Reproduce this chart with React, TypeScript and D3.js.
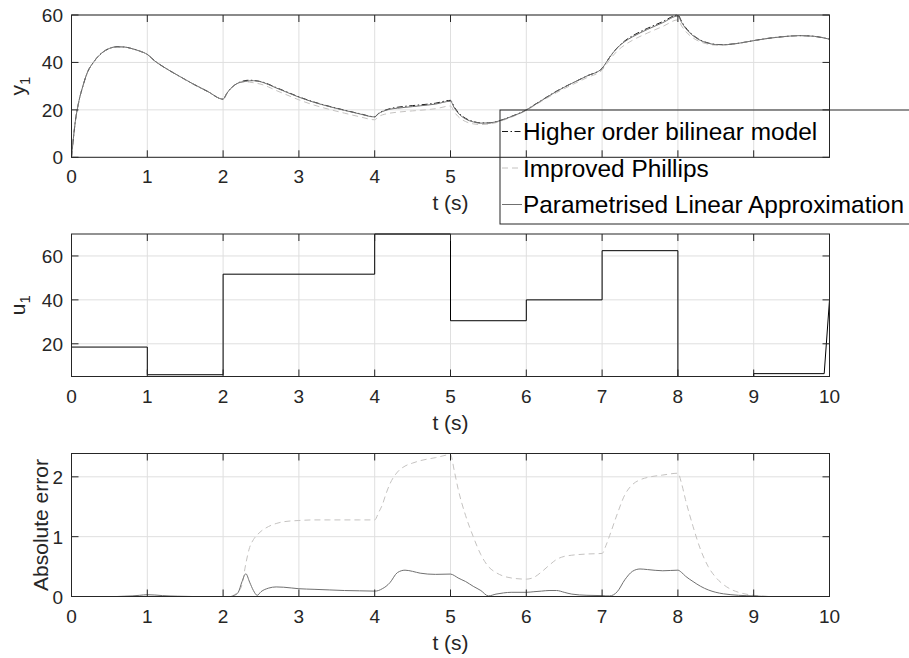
import React from 'react';
import * as d3 from 'd3';

// ---------- data ----------
const tGrid = [
  0, 0.05, 0.1, 0.15, 0.2, 0.3, 0.4, 0.5, 0.6, 0.7, 0.8, 0.9,
  1.0, 1.1, 1.2, 1.4, 1.6, 1.8,
  2.0, 2.05, 2.1, 2.15, 2.2, 2.25, 2.3, 2.35, 2.4, 2.45, 2.5, 2.6, 2.7, 2.8,
  3.0, 3.2, 3.4, 3.6, 3.8,
  4.0, 4.05, 4.1, 4.15, 4.2, 4.3, 4.4, 4.5, 4.6, 4.8,
  5.0, 5.05, 5.1, 5.2, 5.3, 5.4, 5.5, 5.6, 5.7, 5.8,
  6.0, 6.1, 6.2, 6.3, 6.4, 6.5, 6.6, 6.8,
  7.0, 7.05, 7.1, 7.2, 7.3, 7.4, 7.5, 7.6, 7.8,
  8.0, 8.05, 8.1, 8.2, 8.3, 8.4, 8.5, 8.6, 8.7, 8.8,
  9.0, 9.2, 9.4, 9.6, 9.8, 10.0,
];

const yHOB = [
  0, 15, 24, 30, 35, 40.5, 44, 45.9, 46.6, 46.5, 45.8, 44.8,
  43.4, 40.6, 38.4, 34.6, 31.0, 27.7,
  24.5, 27.0, 29.0, 30.4, 31.4, 32.0, 32.4, 32.5, 32.4, 32.2, 31.9, 30.8, 29.4, 28.1,
  25.5, 23.3, 21.5, 19.9, 18.4,
  17.1, 18.5, 19.4, 20.0, 20.5, 21.1, 21.5, 21.8, 22.1, 22.8,
  24.0, 21.2, 19.0, 16.4, 15.1, 14.5, 14.5, 15.0, 16.0, 17.2,
  20.0, 22.0, 24.0, 26.0, 27.9, 29.6, 31.2, 34.3,
  37.5, 39.8, 42.2, 46.2, 49.1, 51.2, 52.9, 54.4, 57.2,
  60.0, 57.2, 54.8, 51.5, 49.4, 48.2, 47.6, 47.5, 47.7, 48.1,
  49.2, 50.2, 50.9, 51.3, 51.0, 49.8,
];

const yPhillips = [
  0, 15, 24, 30, 35, 40.5, 44, 45.9, 46.6, 46.5, 45.8, 44.8,
  43.4, 40.6, 38.4, 34.6, 31.0, 27.7,
  24.5, 27.0, 29.0, 30.37, 31.32, 31.8, 31.85, 31.68, 31.45, 31.17, 30.81, 29.63, 28.18, 26.85,
  24.23, 22.02, 20.22, 18.62, 17.12,
  15.82, 17.12, 17.88, 18.28, 18.62, 19.02, 19.32, 19.57, 19.83, 20.48,
  21.63, 19.1, 17.2, 15.05, 14.1, 13.8, 14.0, 14.6, 15.66, 16.89,
  19.71, 21.68, 23.59, 25.48, 27.28, 28.93, 30.51, 33.59,
  36.78, 38.95, 41.18, 44.82, 47.4, 49.33, 50.95, 52.41, 55.17,
  57.94, 55.32, 53.18, 50.33, 48.62, 47.7, 47.28, 47.3, 47.58, 48.03,
  49.18, 50.2, 50.9, 51.3, 51.0, 49.8,
];

const yPLA = [
  0, 15, 24, 30, 35, 40.5, 44, 45.9, 46.6, 46.5, 45.79, 44.78,
  43.37, 40.58, 38.39, 34.6, 31.0, 27.7,
  24.5, 27.0, 29.0, 30.38, 31.33, 31.75, 32.02, 32.26, 32.3, 32.18, 31.82, 30.66, 29.24, 27.95,
  25.37, 23.18, 21.39, 19.8, 18.31,
  17.01, 18.4, 19.27, 19.83, 20.27, 20.7, 21.06, 21.38, 21.71, 22.43,
  23.63, 20.85, 18.69, 16.15, 14.93, 14.4, 14.49, 14.96, 15.94, 17.13,
  19.93, 21.92, 23.91, 25.9, 27.8, 29.53, 31.16, 34.28,
  37.49, 39.79, 42.19, 46.12, 48.82, 50.78, 52.44, 53.95, 56.77,
  59.56, 56.8, 54.46, 51.25, 49.23, 48.09, 47.53, 47.46, 47.67, 48.08,
  49.19, 50.2, 50.9, 51.3, 51.0, 49.8,
];

const errPhillips = [
  0, 0, 0, 0, 0, 0, 0, 0, 0, 0, 0, 0,
  0, 0, 0, 0, 0, 0,
  0, 0, 0, 0.03, 0.08, 0.2, 0.55, 0.82, 0.95, 1.03, 1.09, 1.17, 1.22, 1.25,
  1.27, 1.28, 1.28, 1.28, 1.28,
  1.28, 1.4, 1.53, 1.72, 1.88, 2.08, 2.18, 2.23, 2.27, 2.32,
  2.37, 2.1, 1.8, 1.35, 1.0, 0.7, 0.5, 0.4, 0.34, 0.31,
  0.29, 0.32, 0.41, 0.52, 0.62, 0.67, 0.69, 0.71,
  0.72, 0.85, 1.02, 1.38, 1.7, 1.87, 1.95, 1.99, 2.03,
  2.06, 1.88, 1.62, 1.17, 0.78, 0.5, 0.32, 0.2, 0.12, 0.07,
  0.02, 0, 0, 0, 0, 0,
];

const errPLA = [
  0, 0, 0, 0, 0, 0, 0, 0, 0, 0.005, 0.01, 0.02,
  0.03, 0.025, 0.015, 0.005, 0, 0,
  0, 0, 0, 0.02, 0.07, 0.25, 0.38, 0.24, 0.1, 0.02, 0.08, 0.14, 0.16, 0.155,
  0.13, 0.12, 0.11, 0.1, 0.095,
  0.09, 0.1, 0.13, 0.17, 0.23, 0.4, 0.44, 0.42, 0.39, 0.37,
  0.375, 0.35, 0.31, 0.25, 0.17, 0.1, 0.01, 0.04, 0.06, 0.07,
  0.07, 0.08, 0.09, 0.1, 0.1, 0.07, 0.04, 0.02,
  0.015, 0.01, 0.01, 0.08, 0.28, 0.42, 0.46, 0.45, 0.43,
  0.44, 0.4, 0.34, 0.25, 0.17, 0.11, 0.07, 0.045, 0.03, 0.02,
  0.01, 0, 0, 0, 0, 0,
];

const uTimes = [0, 1, 1, 2, 2, 4, 4, 5, 5, 6, 6, 7, 7, 8, 8, 9, 9, 9.93, 10];
const uValues = [18.5, 18.5, 5.9, 5.9, 51.7, 51.7, 70, 70, 30.5, 30.5, 40, 40, 62.4, 62.4, 5.1, 5.1, 6.4, 6.4, 40];

const xTicks = [0, 1, 2, 3, 4, 5, 6, 7, 8, 9, 10];
const y1Ticks = [0, 20, 40, 60];
const u1Ticks = [20, 40, 60];
const errTicks = [0, 1, 2];
const legendLabels = ['Higher order bilinear model', 'Improved Phillips', 'Parametrised Linear Approximation'];

// ---------- styles ----------
const FONT = '"Liberation Sans", Arial, Helvetica, sans-serif';
const AXC = '#262626';
const GRIDC = '#dfdfdf';
const C_HOB = '#1a1a1a';
const C_PHIL = '#c4c2c0';
const C_PLA = '#707070';
const DASH_HOB = '6,2.5,1.5,2.5';
const DASH_PHIL = '6,4';

const X0 = 71.5;
const X1 = 829.5;
const x = d3.scaleLinear().domain([0, 10]).range([X0, X1]);

const LEG_X = 500;
const LEG_TOP = 110;
const LEG_BOTTOM = 224;

type Series = { t: number[]; v: number[]; color: string; dash?: string; width?: number; curve?: any };
type PanelDef = {
  id: string; top: number; bottom: number; domain: [number, number]; yTicks: number[];
  series: Series[]; yLabel: React.ReactNode; yLabelX: number; xLabelY: number;
};

const panels: PanelDef[] = [
  {
    id: 'cp1', top: 15, bottom: 157.3, domain: [0, 60], yTicks: y1Ticks,
    series: [
      { t: tGrid, v: yHOB, color: C_HOB, dash: DASH_HOB },
      { t: tGrid, v: yPhillips, color: C_PHIL, dash: DASH_PHIL },
      { t: tGrid, v: yPLA, color: C_PLA },
    ],
    yLabel: <>y<tspan fontSize={15} dy={5}>1</tspan></>, yLabelX: 25, xLabelY: 210,
  },
  {
    id: 'cp2', top: 234, bottom: 376.5, domain: [5.1, 70], yTicks: u1Ticks,
    series: [{ t: uTimes, v: uValues, color: '#000', curve: d3.curveLinear }],
    yLabel: <>u<tspan fontSize={15} dy={5}>1</tspan></>, yLabelX: 25, xLabelY: 429.5,
  },
  {
    id: 'cp3', top: 453.5, bottom: 596.5, domain: [0, 2.39], yTicks: errTicks,
    series: [
      { t: tGrid, v: errPhillips, color: C_PHIL, dash: DASH_PHIL },
      { t: tGrid, v: errPLA, color: C_PLA },
    ],
    yLabel: 'Absolute error', yLabelX: 48, xLabelY: 649.5,
  },
];

function PanelLabels({ p }: { p: PanelDef }) {
  const y = d3.scaleLinear().domain(p.domain).range([p.bottom, p.top]);
  const underLegend = (t: number) =>
    p.bottom + 26 > LEG_TOP && p.bottom < LEG_BOTTOM && x(t) - 6 > LEG_X;
  return (
    <g fontFamily={FONT} fill={AXC}>
      {xTicks.filter((t) => !underLegend(t)).map((t) => (
        <text key={'lx' + t} x={x(t)} y={p.bottom + 26} textAnchor="middle" fontSize={19}>{t}</text>
      ))}
      {p.yTicks.map((v) => (
        <text key={'ly' + v} x={63} y={y(v) + 7} textAnchor="end" fontSize={19}>{v}</text>
      ))}
      <text x={(X0 + X1) / 2} y={p.xLabelY} textAnchor="middle" fontSize={21}>t (s)</text>
      <text transform={`translate(${p.yLabelX},${(p.top + p.bottom) / 2}) rotate(-90)`} textAnchor="middle"
        fontSize={21}>{p.yLabel}</text>
    </g>
  );
}

function PanelPlot({ p }: { p: PanelDef }) {
  const y = d3.scaleLinear().domain(p.domain).range([p.bottom, p.top]);
  const tickLen = 7;
  return (
    <g>
      <defs>
        <clipPath id={p.id}>
          <rect x={X0} y={p.top - 1} width={X1 - X0} height={p.bottom - p.top + 2} />
        </clipPath>
      </defs>
      {xTicks.map((t) => (
        <line key={'gx' + t} x1={x(t)} x2={x(t)} y1={p.top} y2={p.bottom} stroke={GRIDC} strokeWidth={1} />
      ))}
      {p.yTicks.map((v) => (
        <line key={'gy' + v} x1={X0} x2={X1} y1={y(v)} y2={y(v)} stroke={GRIDC} strokeWidth={1} />
      ))}
      <g clipPath={`url(#${p.id})`}>
        {p.series.map((s, i) => {
          const line = d3.line<number>()
            .x((_, j) => x(s.t[j]))
            .y((d) => y(d))
            .curve(s.curve || d3.curveMonotoneX);
          return (
            <path key={i} d={line(s.v) || ''} fill="none" stroke={s.color}
              strokeWidth={s.width || 1} strokeDasharray={s.dash} />
          );
        })}
      </g>
      <rect x={X0} y={p.top} width={X1 - X0} height={p.bottom - p.top} fill="none" stroke={AXC} strokeWidth={1} />
      {xTicks.map((t) => (
        <g key={'tx' + t}>
          <line x1={x(t)} x2={x(t)} y1={p.bottom} y2={p.bottom - tickLen} stroke={AXC} />
          <line x1={x(t)} x2={x(t)} y1={p.top} y2={p.top + tickLen} stroke={AXC} />
        </g>
      ))}
      {p.yTicks.map((v) => (
        <g key={'ty' + v}>
          <line x1={X0} x2={X0 + tickLen} y1={y(v)} y2={y(v)} stroke={AXC} />
          <line x1={X1} x2={X1 - tickLen} y1={y(v)} y2={y(v)} stroke={AXC} />
        </g>
      ))}
    </g>
  );
}

export default function App() {
  const legendBase = [140, 176.5, 213];
  const legendStyles = [
    { color: C_HOB, dash: DASH_HOB },
    { color: C_PHIL, dash: DASH_PHIL },
    { color: C_PLA, dash: undefined },
  ];
  return (
    <svg width={909} height={658} style={{ position: 'absolute', left: 0, top: 0, background: '#fff' }}>
      <rect x={0} y={0} width={909} height={658} fill="#fff" />
      {panels.map((p) => <PanelLabels key={'l' + p.id} p={p} />)}
      {/* legend background sits under the plot area but over the tick-label strip */}
      <rect x={LEG_X} y={LEG_TOP} width={500} height={LEG_BOTTOM - LEG_TOP} fill="#fff" />
      {panels.map((p) => <PanelPlot key={'p' + p.id} p={p} />)}
      <rect x={LEG_X} y={LEG_TOP} width={500} height={LEG_BOTTOM - LEG_TOP} fill="none" stroke={AXC} strokeWidth={1} />
      {legendLabels.map((lab, i) => (
        <g key={lab}>
          <line x1={LEG_X + 2} x2={LEG_X + 22} y1={legendBase[i] - 8.5} y2={legendBase[i] - 8.5}
            stroke={legendStyles[i].color} strokeDasharray={legendStyles[i].dash} />
          <text x={LEG_X + 23} y={legendBase[i]} fontSize={24.4} fill="#000" fontFamily={FONT}>{lab}</text>
        </g>
      ))}
    </svg>
  );
}
